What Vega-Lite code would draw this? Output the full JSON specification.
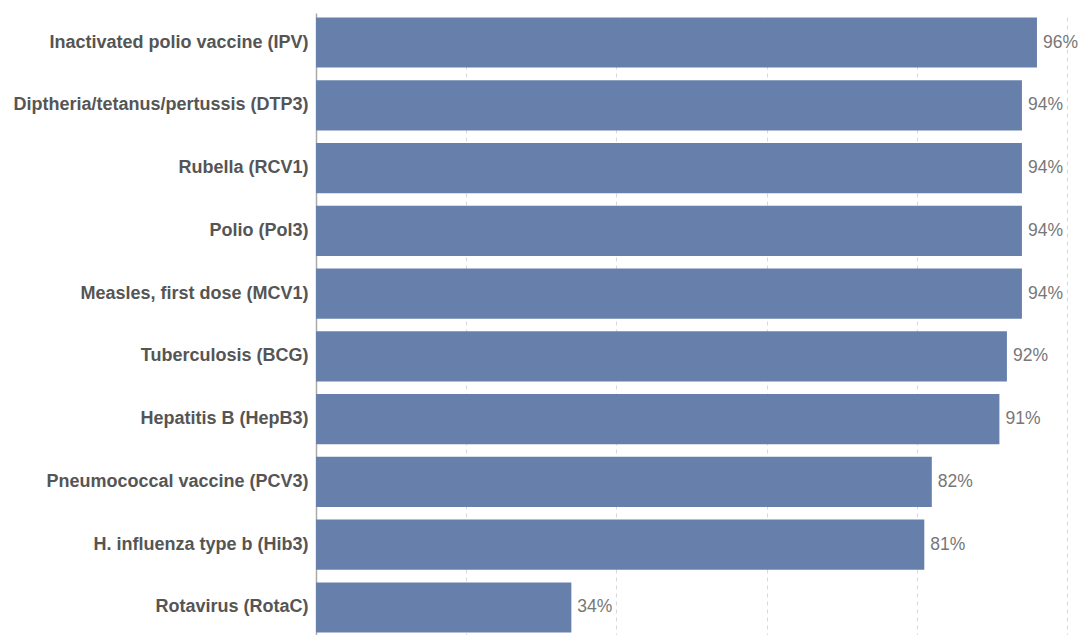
{
  "$schema": "https://vega.github.io/schema/vega-lite/v6.json",
  "autosize": {"type": "none"},
  "padding": {"left": 316, "top": 13, "right": 14, "bottom": 0},
  "width": 751,
  "height": 624,
  "background": "white",
  "config": {"view": {"stroke": null}, "font": "Liberation Sans"},
  "data": {"values": [
    {"vaccine": "Inactivated polio vaccine (IPV)", "coverage": 0.96},
    {"vaccine": "Diptheria/tetanus/pertussis (DTP3)", "coverage": 0.94},
    {"vaccine": "Rubella (RCV1)", "coverage": 0.94},
    {"vaccine": "Polio (Pol3)", "coverage": 0.94},
    {"vaccine": "Measles, first dose (MCV1)", "coverage": 0.94},
    {"vaccine": "Tuberculosis (BCG)", "coverage": 0.92},
    {"vaccine": "Hepatitis B (HepB3)", "coverage": 0.91},
    {"vaccine": "Pneumococcal vaccine (PCV3)", "coverage": 0.82},
    {"vaccine": "H. influenza type b (Hib3)", "coverage": 0.81},
    {"vaccine": "Rotavirus (RotaC)", "coverage": 0.34}
  ]},
  "encoding": {
    "y": {
      "field": "vaccine", "type": "nominal", "sort": null,
      "scale": {"paddingInner": 0.2, "paddingOuter": 0.07},
      "axis": {
        "title": null, "ticks": false, "domainColor": "#aaaaaa", "domainWidth": 1.5,
        "labelFontSize": 18, "labelFontWeight": "bold", "labelColor": "#555555",
        "labelPadding": 8, "labelLimit": 400
      }
    },
    "x": {
      "field": "coverage", "type": "quantitative",
      "scale": {"domain": [0, 1]},
      "axis": {
        "title": null, "labels": false, "ticks": false, "domain": false,
        "values": [0.2, 0.4, 0.6, 0.8, 1.0],
        "grid": true, "gridDash": [4, 4], "gridColor": "#d8d8d8", "gridWidth": 1
      }
    }
  },
  "layer": [
    {"mark": {"type": "bar", "color": "#6680AB"}},
    {
      "mark": {"type": "text", "align": "left", "baseline": "middle", "dx": 6, "fontSize": 17.5, "color": "#777777"},
      "encoding": {"text": {"field": "coverage", "type": "quantitative", "format": ".0%"}}
    }
  ]
}
